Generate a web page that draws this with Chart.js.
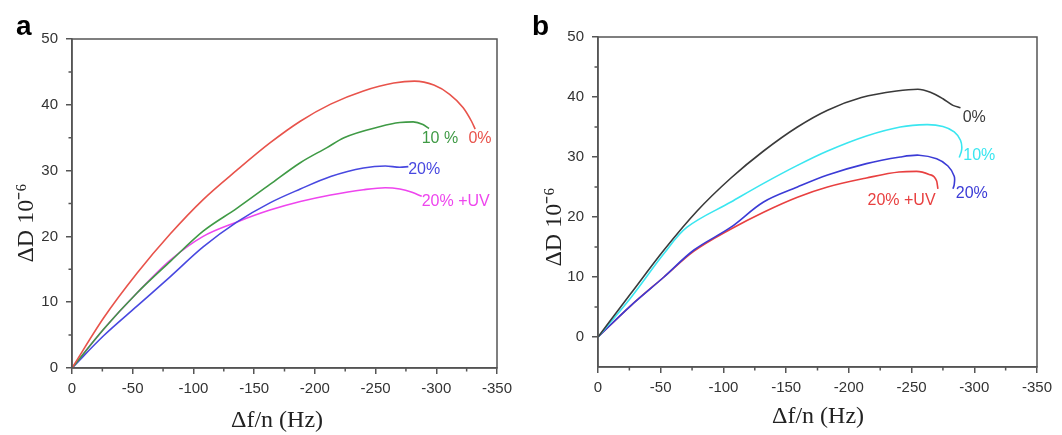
<!DOCTYPE html>
<html>
<head>
<meta charset="utf-8">
<script src="https://cdn.jsdelivr.net/npm/chart.js@4.4.0/dist/chart.umd.min.js"></script>
<style>
  body { margin: 0; background: #fff; width: 1062px; height: 435px; position: relative; overflow: hidden; }
  .panel { position: absolute; top: 0; width: 531px; height: 435px; }
  .tag { position: absolute; font: bold 28px "Liberation Sans", Arial, sans-serif; color: #000; line-height: 32px; }
</style>
</head>
<body>
<div class="panel" style="left:0"><canvas id="chartA" width="531" height="435"></canvas></div>
<div class="panel" style="left:531px"><canvas id="chartB" width="531" height="435"></canvas></div>
<div class="tag" style="left:16px;top:10px">a</div>
<div class="tag" style="left:532px;top:10px">b</div>
<script>
// axis ticks
const xTicks = [0, -50, -100, -150, -200, -250, -300, -350];
const xMinor = [-25, -75, -125, -175, -225, -275, -325];
const yTicks = [0, 10, 20, 30, 40, 50];
const yMinor = [5, 15, 25, 35, 45];

// panel a : delta f/n (Hz) vs delta D (1e-6)
const aRedX   = [0, -26, -53.5, -81, -108, -136, -163, -188, -213, -240, -265, -282, -298, -311, -322, -329, -332];
const aRedY   = [0, 7.6, 14.4, 20.4, 25.6, 30.1, 34.2, 37.5, 40.1, 42.1, 43.3, 43.6, 43.0, 41.6, 39.6, 37.5, 36.3];
const aGreenX = [0, -26, -53.5, -81, -108, -136, -163, -188, -210, -224, -254, -270, -281, -289, -294];
const aGreenY = [0, 5.9, 11.4, 16.2, 20.8, 24.3, 27.9, 31.2, 33.5, 35.0, 36.7, 37.3, 37.4, 37.0, 36.4];
const aBlueX  = [0, -26, -53.5, -81, -108, -136, -163, -188, -213, -240, -258, -270, -277];
const aBlueY  = [0, 4.9, 9.4, 13.9, 18.4, 22.2, 25.1, 27.2, 29.1, 30.4, 30.7, 30.5, 30.6];
const aPinkX  = [0, -26, -53.5, -81, -108, -136, -163, -188, -213, -240, -258, -270, -280, -288];
const aPinkY  = [0, 5.9, 11.4, 16.4, 20.0, 22.2, 24.0, 25.3, 26.3, 27.1, 27.4, 27.2, 26.7, 26.1];

// panel b
const bBlackX = [0, -26, -52.6, -79, -106, -132, -159, -183, -210, -238, -255, -265, -275, -283, -289];
const bBlackY = [0, 7.2, 14.5, 21.0, 26.5, 31.0, 35.0, 37.8, 39.9, 41.0, 41.3, 40.8, 39.7, 38.6, 38.2];
const bCyanX  = [0, -26, -52.6, -71, -106, -132, -159, -183, -214, -241, -262, -275, -284, -289, -290, -288];
const bCyanY  = [0, 6.5, 13.9, 18.3, 22.5, 25.6, 28.6, 31.0, 33.5, 35.0, 35.4, 35.1, 34.2, 32.8, 31.3, 29.9];
const bBlueX  = [0, -26, -52.6, -76.5, -106, -132, -159, -183, -214, -241, -256, -270, -279, -284, -284, -283];
const bBlueY  = [0, 5.2, 10.0, 14.5, 18.3, 22.5, 25.0, 27.0, 28.9, 30.0, 30.3, 29.7, 28.5, 26.8, 25.4, 24.7];
const bRedX   = [0, -26, -52.6, -76.5, -106, -132, -159, -183, -214, -240, -254, -264, -270, -271];
const bRedY   = [0, 5.2, 10.0, 14.3, 18.0, 20.8, 23.3, 25.0, 26.5, 27.5, 27.6, 27.1, 26.0, 24.7];

// curve labels
const aLabels = ['0%', '10 %', '20%', '20% +UV'];
const aLabelX = [-336, -303, -290, -316];
const aLabelY = [34.8, 34.8, 30.1, 25.3];
const bLabels = ['0%', '10%', '20%', '20% +UV'];
const bLabelX = [-300, -304, -298, -242];
const bLabelY = [36.6, 30.3, 23.9, 22.7];

const aColors = ['#e8534b', '#3f9a45', '#4848e0', '#ee45ee'];
const bColors = ['#3a3a3a', '#3ae6f0', '#3b3bd6', '#e84040'];

function pts(xs, ys) {
  return xs.map((x, i) => ({ x: x, y: ys[i] }));
}

// curl = curve turns back on itself at the end, so no monotone spline
function line(xs, ys, color, curl) {
  const ds = {
    data: pts(xs, ys),
    showLine: true,
    borderColor: color,
    backgroundColor: color,
    borderWidth: 1.6,
    pointRadius: 0
  };
  if (curl) {
    ds.tension = 0.35;
  } else {
    ds.cubicInterpolationMode = 'monotone';
  }
  return ds;
}

const framePlugin = {
  id: 'frame',
  afterDraw(chart, args, opts) {
    const ctx = chart.ctx;
    const a = chart.chartArea;
    const sx = chart.scales.x;
    const sy = chart.scales.y;
    ctx.save();
    ctx.strokeStyle = '#555';
    ctx.lineWidth = 1.5;
    ctx.strokeRect(a.left, a.top, a.right - a.left, a.bottom - a.top);
    ctx.beginPath();
    xMinor.forEach(v => {
      const px = sx.getPixelForValue(v);
      ctx.moveTo(px, a.bottom);
      ctx.lineTo(px, a.bottom + 3.5);
    });
    yMinor.forEach(v => {
      const py = sy.getPixelForValue(v);
      ctx.moveTo(a.left, py);
      ctx.lineTo(a.left - 3.5, py);
    });
    ctx.stroke();

    // curve labels
    ctx.font = '16px "Liberation Sans", Arial, sans-serif';
    ctx.textAlign = 'center';
    ctx.textBaseline = 'middle';
    opts.texts.forEach((t, i) => {
      ctx.fillStyle = opts.colors[i];
      ctx.fillText(t, sx.getPixelForValue(opts.xs[i]), sy.getPixelForValue(opts.ys[i]));
    });

    // axis titles
    ctx.fillStyle = '#222';
    ctx.font = '24px "Liberation Serif", "Times New Roman", serif';
    ctx.fillText('Δf/n (Hz)', opts.xTitle[0], opts.xTitle[1]);
    ctx.translate(opts.yTitle[0], opts.yTitle[1]);
    ctx.rotate(-Math.PI / 2);
    ctx.fillText('ΔD 10⁻⁶', 0, 0);
    ctx.restore();
  }
};

function makeChart(id, datasets, cfg) {
  return new Chart(document.getElementById(id), {
    type: 'scatter',
    data: { datasets: datasets },
    plugins: [framePlugin],
    options: {
      responsive: false,
      animation: false,
      layout: { padding: { top: cfg.top, right: cfg.right, left: 0, bottom: 0 } },
      plugins: {
        legend: { display: false },
        tooltip: { enabled: false },
        frame: {
          texts: cfg.texts, xs: cfg.lx, ys: cfg.ly, colors: cfg.colors,
          xTitle: cfg.xTitle, yTitle: cfg.yTitle
        }
      },
      scales: {
        x: {
          type: 'linear',
          min: -350,
          max: 0,
          reverse: true,
          afterBuildTicks: s => { s.ticks = xTicks.map(v => ({ value: v })); },
          afterFit: s => { s.height = cfg.xh; },
          ticks: {
            color: '#333',
            font: { family: 'Liberation Sans', size: 15 },
            padding: 6,
            maxRotation: 0,
            autoSkip: false
          },
          grid: { drawOnChartArea: false, tickLength: 6, color: '#555', lineWidth: 1.5 },
          border: { color: '#555', width: 1.5 }
        },
        y: {
          type: 'linear',
          min: cfg.ymin,
          max: 50,
          afterBuildTicks: s => { s.ticks = yTicks.map(v => ({ value: v })); },
          afterFit: s => { s.width = cfg.yw; },
          ticks: {
            color: '#333',
            font: { family: 'Liberation Sans', size: 15 },
            padding: 8
          },
          grid: { drawOnChartArea: false, tickLength: 6, color: '#555', lineWidth: 1.5 },
          border: { color: '#555', width: 1.5 }
        }
      }
    }
  });
}

makeChart('chartA', [
  line(aRedX, aRedY, aColors[0]),
  line(aGreenX, aGreenY, aColors[1]),
  line(aBlueX, aBlueY, aColors[2]),
  line(aPinkX, aPinkY, aColors[3])
], { top: 39, right: 34, xh: 67, yw: 72, ymin: 0,
     xTitle: [277, 421], yTitle: [27, 223],
     texts: aLabels, lx: aLabelX, ly: aLabelY, colors: aColors });

makeChart('chartB', [
  line(bBlackX, bBlackY, bColors[0]),
  line(bCyanX, bCyanY, bColors[1], true),
  line(bBlueX, bBlueY, bColors[2], true),
  line(bRedX, bRedY, bColors[3])
], { top: 37, right: 25, xh: 68, yw: 67, ymin: -5,
     xTitle: [287, 417], yTitle: [24, 227],
     texts: bLabels, lx: bLabelX, ly: bLabelY, colors: bColors });
</script>
</body>
</html>
